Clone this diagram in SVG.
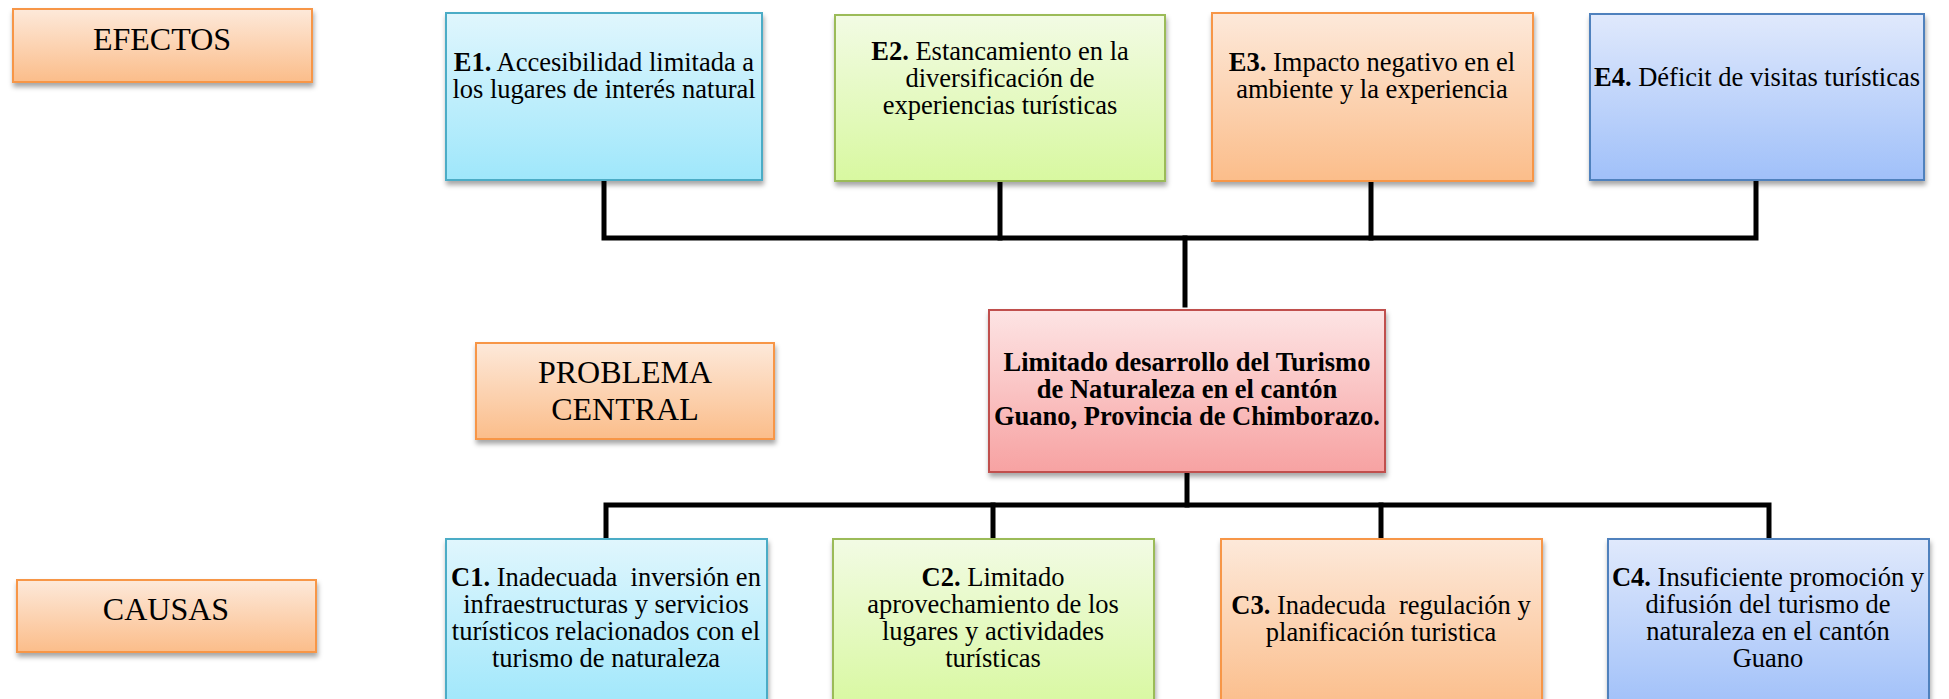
<svg xmlns="http://www.w3.org/2000/svg" width="1949" height="699" viewBox="0 0 1949 699">
<defs>
<linearGradient id="gOrange" x1="0" y1="0" x2="0" y2="1"><stop offset="0" stop-color="#FDE9DA"/><stop offset="1" stop-color="#FBBD8A"/></linearGradient>
<linearGradient id="gCyan" x1="0" y1="0" x2="0" y2="1"><stop offset="0" stop-color="#E0F6FD"/><stop offset="1" stop-color="#9FE7FB"/></linearGradient>
<linearGradient id="gGreen" x1="0" y1="0" x2="0" y2="1"><stop offset="0" stop-color="#F2FBE4"/><stop offset="1" stop-color="#D8F8A0"/></linearGradient>
<linearGradient id="gBlue" x1="0" y1="0" x2="0" y2="1"><stop offset="0" stop-color="#E0E9FC"/><stop offset="1" stop-color="#A0C0F9"/></linearGradient>
<linearGradient id="gRed" x1="0" y1="0" x2="0" y2="1"><stop offset="0" stop-color="#FDE4E4"/><stop offset="1" stop-color="#F7A2A2"/></linearGradient>
<filter id="sh" x="-10%" y="-10%" width="120%" height="130%"><feDropShadow dx="1" dy="4" stdDeviation="2.5" flood-color="#000" flood-opacity="0.35"/></filter>
</defs>
<style>
.box{stroke-width:2;filter:url(#sh)}
.or{fill:url(#gOrange);stroke:#F79646}
.cy{fill:url(#gCyan);stroke:#4BACC6}
.gr{fill:url(#gGreen);stroke:#9BBB59}
.bl{fill:url(#gBlue);stroke:#4F81BD}
.rd{fill:url(#gRed);stroke:#C0504D}
text{font-family:"Liberation Serif","Times New Roman",serif;fill:#000;text-anchor:middle;white-space:pre}
.lab{font-size:32px}
.t{font-size:26.5px}
.b{font-weight:bold}
.con{fill:none;stroke:#000;stroke-width:5;stroke-linejoin:miter;stroke-linecap:square}
</style>

<g id="connectors">
<path class="con" d="M604 181 V238 H1756 V181"/>
<path class="con" d="M1000 182 V238"/>
<path class="con" d="M1371 182 V238"/>
<path class="con" d="M1185 238 V305"/>
<path class="con" d="M1187 473 V505"/>
<path class="con" d="M606 538 V505 H1769 V538"/>
<path class="con" d="M993 505 V538"/>
<path class="con" d="M1381 505 V538"/>
</g>

<g id="efectos">
<rect class="box or" x="13" y="9" width="299" height="73"/>
<text class="lab" x="162" y="50">EFECTOS</text>
</g>

<g id="problema-label">
<rect class="box or" x="476" y="343" width="298" height="96"/>
<text class="lab" x="625" y="383">PROBLEMA</text>
<text class="lab" x="625" y="420">CENTRAL</text>
</g>

<g id="causas">
<rect class="box or" x="17" y="580" width="299" height="72"/>
<text class="lab" x="166" y="620">CAUSAS</text>
</g>

<g id="E1">
<rect class="box cy" x="446" y="13" width="316" height="167"/>
<text class="t" x="604" y="71"><tspan class="b">E1.</tspan> Accesibilidad limitada a</text>
<text class="t" x="604" y="98">los lugares de interés natural</text>
</g>

<g id="E2">
<rect class="box gr" x="835" y="15" width="330" height="166"/>
<text class="t" x="1000" y="60"><tspan class="b">E2.</tspan> Estancamiento en la</text>
<text class="t" x="1000" y="87">diversificación de</text>
<text class="t" x="1000" y="114">experiencias turísticas</text>
</g>

<g id="E3">
<rect class="box or" x="1212" y="13" width="321" height="168"/>
<text class="t" x="1372" y="71"><tspan class="b">E3.</tspan> Impacto negativo en el</text>
<text class="t" x="1372" y="98">ambiente y la experiencia</text>
</g>

<g id="E4">
<rect class="box bl" x="1590" y="14" width="334" height="166"/>
<text class="t" x="1757" y="86"><tspan class="b">E4.</tspan> Déficit de visitas turísticas</text>
</g>

<g id="central">
<rect class="box rd" x="989" y="310" width="396" height="162"/>
<text class="t b" x="1187" y="371">Limitado desarrollo del Turismo</text>
<text class="t b" x="1187" y="398">de Naturaleza en el cantón</text>
<text class="t b" x="1187" y="425">Guano, Provincia de Chimborazo.</text>
</g>

<g id="C1">
<rect class="box cy" x="446" y="539" width="321" height="170"/>
<text class="t" x="606" y="586"><tspan class="b">C1.</tspan> Inadecuada  inversión en</text>
<text class="t" x="606" y="613">infraestructuras y servicios</text>
<text class="t" x="606" y="640">turísticos relacionados con el</text>
<text class="t" x="606" y="667">turismo de naturaleza</text>
</g>

<g id="C2">
<rect class="box gr" x="833" y="539" width="321" height="170"/>
<text class="t" x="993" y="586"><tspan class="b">C2.</tspan> Limitado</text>
<text class="t" x="993" y="613">aprovechamiento de los</text>
<text class="t" x="993" y="640">lugares y actividades</text>
<text class="t" x="993" y="667">turísticas</text>
</g>

<g id="C3">
<rect class="box or" x="1221" y="539" width="321" height="170"/>
<text class="t" x="1381" y="614"><tspan class="b">C3.</tspan> Inadecuda  regulación y</text>
<text class="t" x="1381" y="641">planificación turistica</text>
</g>

<g id="C4">
<rect class="box bl" x="1608" y="539" width="321" height="170"/>
<text class="t" x="1768" y="586"><tspan class="b">C4.</tspan> Insuficiente promoción y</text>
<text class="t" x="1768" y="613">difusión del turismo de</text>
<text class="t" x="1768" y="640">naturaleza en el cantón</text>
<text class="t" x="1768" y="667">Guano</text>
</g>
</svg>
